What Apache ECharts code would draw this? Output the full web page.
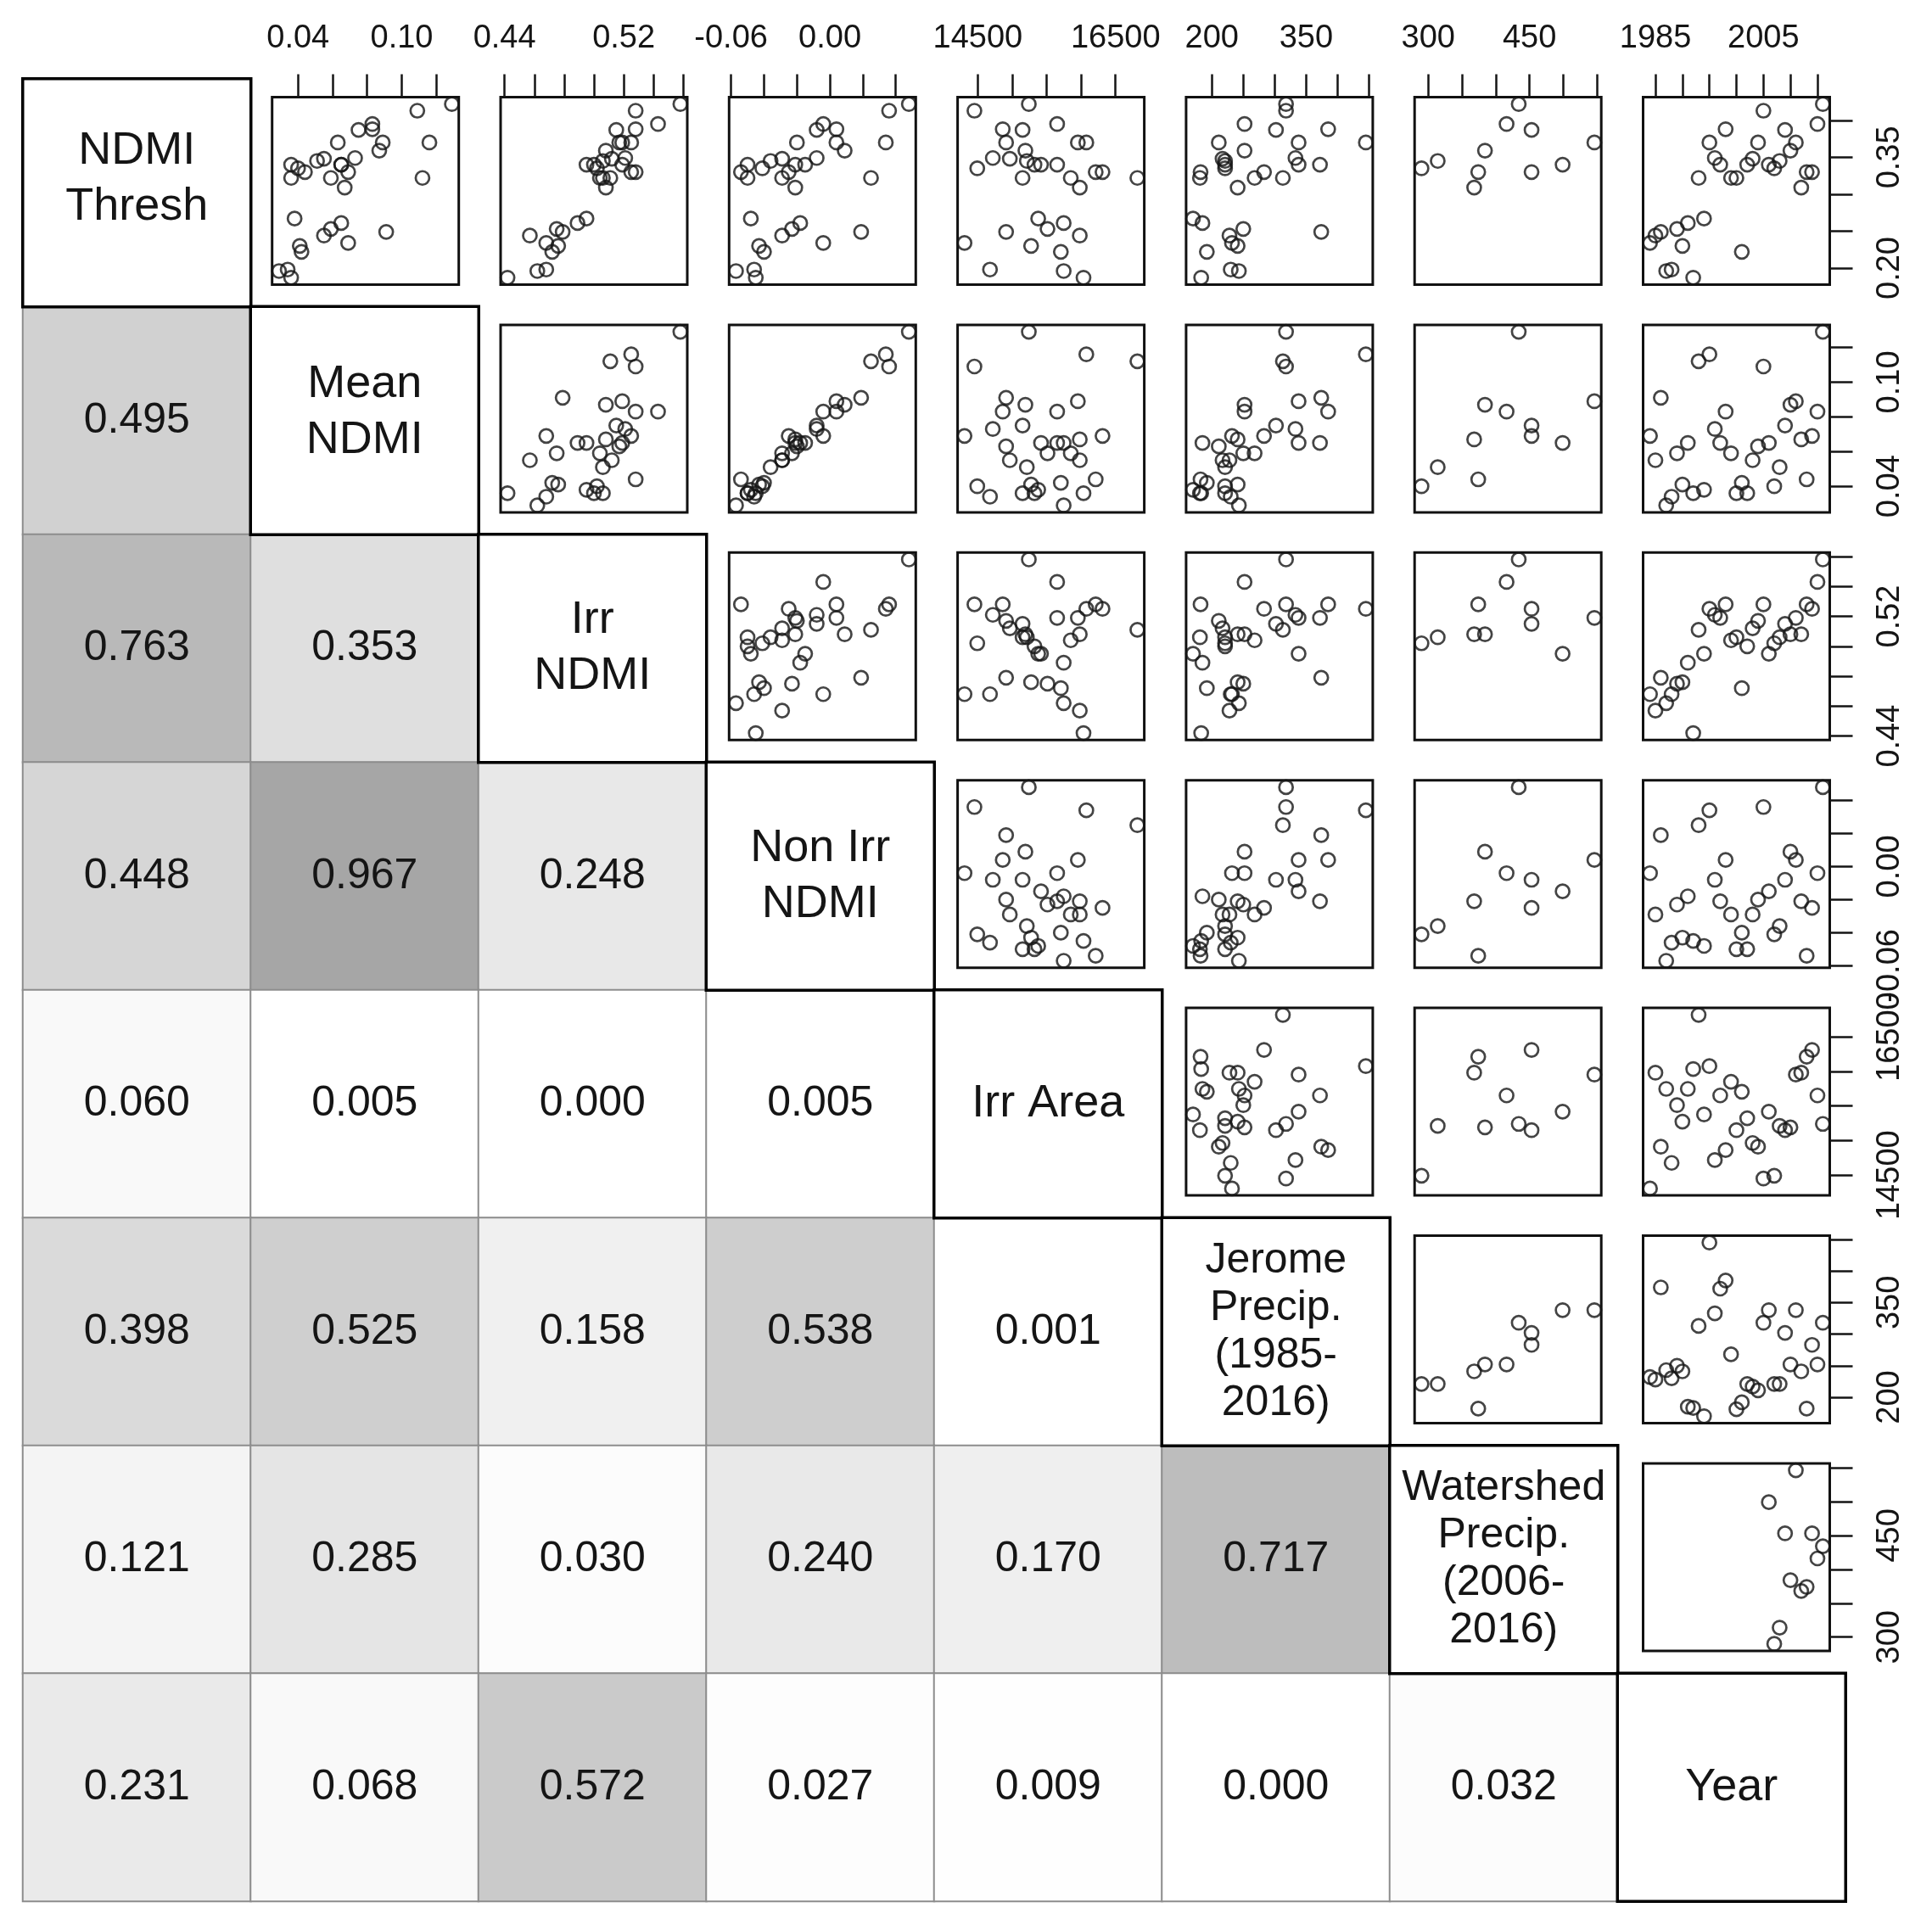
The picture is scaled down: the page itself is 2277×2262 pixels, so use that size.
<!DOCTYPE html>
<html lang="en">
<head>
<meta charset="UTF-8">
<title>NDMI scatterplot matrix</title>
<script src="https://cdn.jsdelivr.net/npm/echarts@6.0.0/dist/echarts.min.js"></script>
<style>
html, body { margin: 0; padding: 0; background: #ffffff; }
#chart { width: 2277px; height: 2262px; }
</style>
</head>
<body>
<div id="chart"></div>
<script>
// one row per year; watershed precip only recorded from 2006
const years = [1984, 1985, 1986, 1987, 1988, 1989, 1990, 1991, 1992, 1993,
  1994, 1995, 1996, 1997, 1998, 1999, 2000, 2001, 2002, 2003,
  2004, 2005, 2006, 2007, 2008, 2009, 2010, 2011, 2012, 2013,
  2014, 2015, 2016];
const ndmiThresh = [0.234, 0.244, 0.249, 0.196, 0.198, 0.253, 0.230, 0.261, 0.187, 0.322,
  0.267, 0.370, 0.349, 0.340, 0.388, 0.322, 0.322, 0.222, 0.340, 0.348,
  0.370, 0.413, 0.340, 0.335, 0.345, 0.387, 0.359, 0.370, 0.309, 0.330,
  0.330, 0.395, 0.422];
const meanNdmi = [0.069, 0.055, 0.091, 0.029, 0.034, 0.059, 0.041, 0.065, 0.036, 0.112,
  0.038, 0.116, 0.073, 0.065, 0.083, 0.059, 0.036, 0.042, 0.036, 0.055,
  0.063, 0.109, 0.065, 0.040, 0.051, 0.075, 0.087, 0.089, 0.067, 0.044,
  0.069, 0.083, 0.129];
const irrNdmi = [0.468, 0.457, 0.479, 0.462, 0.468, 0.475, 0.476, 0.489, 0.442, 0.511,
  0.495, 0.525, 0.521, 0.519, 0.528, 0.504, 0.506, 0.472, 0.500, 0.512,
  0.517, 0.528, 0.495, 0.502, 0.506, 0.515, 0.508, 0.519, 0.508, 0.528,
  0.525, 0.543, 0.558];
const nonIrrNdmi = [-0.004, -0.029, 0.019, -0.057, -0.046, -0.023, -0.043, -0.018, -0.045, 0.025,
  -0.048, 0.034, -0.008, -0.021, 0.004, -0.029, -0.050, -0.040, -0.050, -0.029,
  -0.020, 0.036, -0.015, -0.041, -0.036, -0.008, 0.009, 0.004, -0.021, -0.054,
  -0.025, -0.004, 0.048];
const irrArea = [14307, 15981, 14911, 15747, 14677, 15512, 15274, 15747, 16035, 16817,
  15377, 16076, 14718, 15652, 14862, 15850, 15150, 15706, 15323, 14965,
  14911, 14451, 15418, 14492, 15212, 15150, 15191, 15953, 15981, 16212,
  16311, 15652, 15241];
const jeromePrecip = [232, 228, 374, 243, 230, 250, 241, 185, 183, 313,
  170, 445, 333, 372, 385, 268, 181, 192, 221, 217,
  211, 318, 338, 221, 221, 302, 252, 338, 241, 182,
  283, 252, 318];
const watershedPrecip = [null, null, null, null, null, null, null, null, null, null,
  null, null, null, null, null, null, null, null, null, null,
  null, null, 499, 290, 314, 453, 384, 546, 368, 374,
  453, 416, 434];

const varNames = ['NDMI\nThresh', 'Mean\nNDMI', 'Irr\nNDMI', 'Non Irr\nNDMI', 'Irr Area',
  'Jerome\nPrecip.\n(1985-\n2016)', 'Watershed\nPrecip.\n(2006-\n2016)', 'Year'];

// lower triangle values, row r holds columns 0..r-1
const corrRows = [
  [],
  [0.495],
  [0.763, 0.353],
  [0.448, 0.967, 0.248],
  [0.060, 0.005, 0.000, 0.005],
  [0.398, 0.525, 0.158, 0.538, 0.001],
  [0.121, 0.285, 0.030, 0.240, 0.170, 0.717],
  [0.231, 0.068, 0.572, 0.027, 0.009, 0.000, 0.032]
];

// axis ticks and the labels R kept
const tickValues = [
  [0.20, 0.25, 0.30, 0.35, 0.40],
  [0.04, 0.06, 0.08, 0.10, 0.12],
  [0.44, 0.46, 0.48, 0.50, 0.52, 0.54, 0.56],
  [-0.06, -0.04, -0.02, 0.00, 0.02, 0.04],
  [14500, 15000, 15500, 16000, 16500],
  [200, 250, 300, 350, 400, 450],
  [300, 350, 400, 450, 500, 550],
  [1985, 1990, 1995, 2000, 2005, 2010, 2015]
];
const tickLabels = [
  [0.20, 0.35],
  [0.04, 0.10],
  [0.44, 0.52],
  [-0.06, 0.00],
  [14500, 16500],
  [200, 350],
  [300, 450],
  [1985, 2005]
];
const labelDigits = [2, 2, 2, 2, 0, 0, 0, 0];

const cols = [ndmiThresh, meanNdmi, irrNdmi, nonIrrNdmi, irrArea, jeromePrecip, watershedPrecip, years];
const N = cols.length;

// layout
const CELL = 268.5, CELL_X0 = 27, CELL_Y0 = 93;
const PANEL_X0 = 320.7, PANEL_DX = 269.3, PANEL_Y0 = 114.5, PANEL_DY = 268.4;
const PANEL_W = 220, PANEL_H = 221;
const FONT = "'Liberation Sans', Arial, sans-serif";
const INK = '#151515';

function paddedRange(v) {
  const a = v.filter(x => x !== null);
  const lo = Math.min(...a), hi = Math.max(...a);
  const pad = (hi - lo) * 0.04;
  return [lo - pad, hi + pad];
}
const ranges = cols.map(paddedRange);

const grid = [{ left: CELL_X0, top: CELL_Y0, width: CELL * N, height: CELL * N }];
const xAxis = [{ gridIndex: 0, type: 'category', data: varNames.map((_, k) => k), show: false }];
const yAxis = [{ gridIndex: 0, type: 'category', data: varNames.map((_, k) => k), show: false, inverse: true }];

const corrData = [];
corrRows.forEach((row, r) => row.forEach((v, c) => corrData.push([c, r, v])));

const diagOffset = { 0: [0, -16], 1: [0, -10] };
const diagData = varNames.map((name, k) => {
  const long = name.split('\n').length > 2;
  return {
    value: [k, k, k],
    label: {
      fontSize: long ? 50 : 54,
      lineHeight: long ? 56 : 66,
      offset: diagOffset[k] || [0, 0]
    }
  };
});

const series = [
  {
    type: 'heatmap',
    xAxisIndex: 0, yAxisIndex: 0,
    data: corrData,
    itemStyle: { borderColor: '#8d8d8d', borderWidth: 2 },
    label: {
      show: true, fontSize: 50, color: INK, fontFamily: FONT,
      formatter: p => p.value[2].toFixed(3)
    },
    emphasis: { disabled: true }
  },
  {
    type: 'heatmap',
    xAxisIndex: 0, yAxisIndex: 0,
    data: diagData,
    itemStyle: { color: '#ffffff', borderColor: '#000000', borderWidth: 3.5 },
    label: {
      show: true, color: INK, fontFamily: FONT,
      formatter: p => varNames[p.value[0]]
    },
    emphasis: { disabled: true }
  }
];

let g = 1;
for (let i = 0; i < N; i++) {
  for (let j = i + 1; j < N; j++) {
    grid.push({
      left: PANEL_X0 + PANEL_DX * (j - 1),
      top: PANEL_Y0 + PANEL_DY * i,
      width: PANEL_W, height: PANEL_H,
      show: true, borderColor: '#111111', borderWidth: 3, backgroundColor: 'transparent'
    });
    const topRow = i === 0, lastCol = j === N - 1;
    xAxis.push({
      gridIndex: g, type: 'value', position: 'top',
      min: ranges[j][0], max: ranges[j][1],
      axisLine: { show: false }, splitLine: { show: false },
      axisTick: { show: topRow, length: 27, customValues: tickValues[j],
        lineStyle: { color: INK, width: 2.5 } },
      axisLabel: { show: topRow, customValues: tickLabels[j], margin: 50,
        fontSize: 38, color: INK, fontFamily: FONT,
        formatter: (v => Number(v).toFixed(labelDigits[j])) }
    });
    yAxis.push({
      gridIndex: g, type: 'value', position: 'right',
      min: ranges[i][0], max: ranges[i][1],
      axisLine: { show: false }, splitLine: { show: false },
      axisTick: { show: lastCol, length: 27, customValues: tickValues[i],
        lineStyle: { color: INK, width: 2.5 } },
      axisLabel: { show: lastCol, customValues: tickLabels[i], margin: 52, rotate: 90,
        fontSize: 38, color: INK, fontFamily: FONT,
        formatter: (v => Number(v).toFixed(labelDigits[i])) }
    });
    const pts = [];
    for (let r = 0; r < years.length; r++) {
      if (cols[j][r] !== null && cols[i][r] !== null) pts.push([cols[j][r], cols[i][r]]);
    }
    series.push({
      type: 'scatter', xAxisIndex: g, yAxisIndex: g,
      data: pts, symbol: 'circle', symbolSize: 16,
      itemStyle: { color: 'rgba(0,0,0,0)', borderColor: INK, borderWidth: 2.7 },
      emphasis: { disabled: true }
    });
    g++;
  }
}

const chart = echarts.init(document.getElementById('chart'));
chart.setOption({
  animation: false,
  backgroundColor: '#ffffff',
  textStyle: { fontFamily: FONT },
  visualMap: {
    show: false, seriesIndex: 0, dimension: 2, min: 0, max: 1,
    inRange: { color: ['#ffffff', '#a3a3a3'] }
  },
  grid: grid,
  xAxis: xAxis,
  yAxis: yAxis,
  series: series
});
</script>
</body>
</html>
